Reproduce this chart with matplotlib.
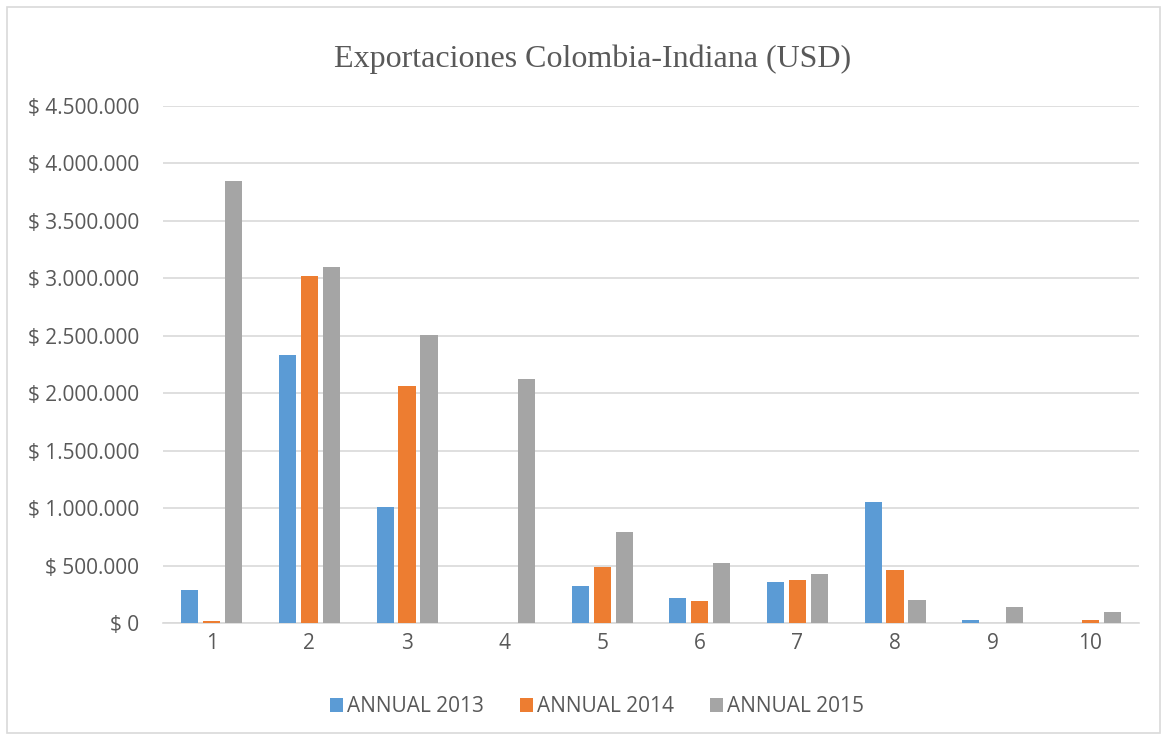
import matplotlib
matplotlib.use("Agg")
import matplotlib.pyplot as plt
from matplotlib.ticker import FuncFormatter, MultipleLocator
from matplotlib.patches import Rectangle, Patch
import numpy as np

categories = ["1", "2", "3", "4", "5", "6", "7", "8", "9", "10"]
annual_2013 = [290000, 2330000, 1010000, 0, 320000, 215000, 360000, 1055000, 25000, 0]
annual_2014 = [20000, 3020000, 2060000, 3000, 490000, 190000, 370000, 460000, 0, 25000]
annual_2015 = [3845000, 3095000, 2510000, 2125000, 790000, 520000, 425000, 200000, 140000, 100000]
series_names = ["ANNUAL 2013", "ANNUAL 2014", "ANNUAL 2015"]
colors = ["#5B9BD5", "#ED7D31", "#A5A5A5"]

W, H = 1166, 738
fig = plt.figure(figsize=(W / 100, H / 100), dpi=100)
fig.patch.set_facecolor("white")

# outer chart border
fig.add_artist(Rectangle((7 / W, 5 / H), (1160 - 7) / W, (731 - 5) / H,
                         transform=fig.transFigure, fill=False,
                         edgecolor="#D9D9D9", linewidth=1.2))

left, right, top, bottom = 163, 1139, 106, 623
ax = fig.add_axes([left / W, 1 - bottom / H, (right - left) / W, (bottom - top) / H])

x = np.arange(1, len(categories) + 1)
bw = 0.175
step = 0.225
for i, (vals, name, c) in enumerate(zip([annual_2013, annual_2014, annual_2015], series_names, colors)):
    ax.bar(x + (i - 1) * step, vals, width=bw, color=c, label=name, zorder=3)

ax.set_xlim(0.5, len(categories) + 0.5)
ax.set_ylim(0, 4500000)
ax.yaxis.set_major_locator(MultipleLocator(500000))
ax.yaxis.set_major_formatter(FuncFormatter(lambda v, p: "$ " + f"{v:,.0f}".replace(",", ".")))
ax.set_xticks(x)
ax.set_xticklabels(categories)

ax.grid(axis="y", color="#D9D9D9", linewidth=1.2, zorder=0)
for s in ["left", "right", "top"]:
    ax.spines[s].set_visible(False)
ax.spines["bottom"].set_color("#D9D9D9")
ax.spines["bottom"].set_linewidth(1.2)
ax.tick_params(axis="both", length=0, colors="#595959", labelsize=15)
ax.tick_params(axis="y", pad=17)
ax.tick_params(axis="x", pad=7)
for lab in ax.get_xticklabels() + ax.get_yticklabels():
    lab.set_fontfamily("Open Sans")

fig.text(593 / W, 1 - 59 / H, "Exportaciones Colombia-Indiana (USD)",
         ha="center", va="center", fontsize=23, color="#595959",
         fontfamily="Liberation Serif")

handles = [Patch(facecolor=c, label=n) for c, n in zip(colors, series_names)]
fig.legend(handles=handles, loc="center", bbox_to_anchor=(597 / W, 1 - 707 / H),
           ncol=3, frameon=False, handlelength=0.65, handleheight=0.65,
           handletextpad=0.2, columnspacing=1.7,
           prop={"family": "Open Sans", "size": 15}, labelcolor="#595959")

fig.savefig("out.png", dpi=100)
